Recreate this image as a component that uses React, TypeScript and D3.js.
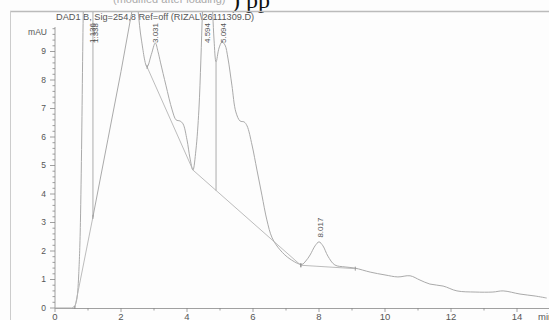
import { useEffect, useRef } from 'react';
import * as d3 from 'd3';

// signal trace, [time (min), absorbance (mAU)]
const signal: [number, number][] = [
  [0, 0], [0.5, 0], [0.58, 0.05], [0.66, 0.3], [0.72, 1.2], [0.77, 3.0], [0.81, 6.0], [0.84, 9.0], [0.87, 11.5],
];
const riseToMain: [number, number][] = [[1.15, 3.2], [1.6, 5.9], [2.0, 8.3], [2.36, 10.6]];
const mainTail: [number, number][] = [
  [2.46, 11.2], [2.52, 10.4], [2.62, 9.4], [2.79, 8.46], [2.92, 8.9], [3.04, 9.3], [3.12, 9.0], [3.2, 8.6],
  [3.36, 7.82], [3.55, 6.95], [3.67, 6.6], [3.79, 6.56], [3.88, 6.46], [4.0, 5.9], [4.09, 5.26], [4.18, 4.84],
  [4.27, 5.54], [4.36, 6.95], [4.42, 8.7], [4.47, 10.4], [4.52, 11.5],
  [4.72, 11.5], [4.78, 10.3], [4.82, 9.4], [4.88, 8.63], [4.97, 9.12], [5.06, 9.33], [5.15, 9.23], [5.24, 8.77],
  [5.36, 7.82], [5.48, 6.88], [5.61, 6.56], [5.73, 6.53], [5.82, 6.39], [5.97, 5.72], [6.12, 4.84], [6.27, 3.96],
  [6.42, 3.09], [6.58, 2.46], [6.82, 2.04], [7.12, 1.72], [7.48, 1.53], [7.6, 1.65], [7.73, 1.86], [7.88, 2.18],
  [8.0, 2.32], [8.12, 2.18], [8.27, 1.82], [8.48, 1.51], [8.79, 1.44], [9.09, 1.4], [9.55, 1.26], [10.0, 1.16],
  [10.39, 1.09], [10.76, 1.13], [11.06, 0.98], [11.36, 0.84], [11.76, 0.77], [12.18, 0.6], [12.73, 0.56],
  [13.27, 0.56], [13.58, 0.6], [14.09, 0.49], [14.55, 0.42], [14.9, 0.35],
];

// integration baselines
const baselines: [number, number][][] = [
  [[0.6, 0], [1.15, 3.2]],
  [[2.79, 8.46], [4.18, 4.84], [7.45, 1.5]],
  [[7.45, 1.5], [9.1, 1.38]],
];
const dropLines: [number, number, number][] = [
  [1.15, 3.2, 11],
  [4.88, 4.12, 8.63],
];

const peakLabels = ['1.136', '1.338', '3.031', '4.594', '5.094', '8.017'];
const peakTimes = [1.136, 1.2, 3.031, 4.594, 5.094, 8.017];
const peakTops = [10.7, 10.7, 9.3, 10.7, 10.7, 2.4];

const xMajor = [0, 2, 4, 6, 8, 10, 12, 14];
const yMajor = [0, 1, 2, 3, 4, 5, 6, 7, 8, 9];

const W = 549;
const H = 320;
const gray = '#aaaaaa';
const txt = '#555';
const sans = '"Liberation Sans", Arial, sans-serif';

export default function App() {
  const ref = useRef<SVGSVGElement>(null);

  useEffect(() => {
    const svg = d3.select(ref.current!);
    svg.selectAll('*').remove();

    const x = d3.scaleLinear().domain([0, 15]).range([55, 550]);
    const y = d3.scaleLinear().domain([0, 10]).range([308, 23]);

    svg.append('rect').attr('width', W).attr('height', H).attr('fill', '#fdfdfd');

    // header text cut off by the scan
    svg.append('text').attr('x', 113).attr('y', 3).attr('font-family', sans).attr('font-size', 11)
      .attr('fill', '#aaa').text('(modified after loading)');
    svg.append('text').attr('x', 232).attr('y', 8).attr('font-family', '"Liberation Serif", serif')
      .attr('font-size', 24).attr('fill', '#111').text(') pp');

    // frame
    svg.append('line').attr('x1', 10).attr('x2', W).attr('y1', 11.5).attr('y2', 11.5)
      .attr('stroke', '#bbb').attr('stroke-width', 1.5);
    svg.append('line').attr('x1', 10.5).attr('x2', 10.5).attr('y1', 11).attr('y2', H)
      .attr('stroke', '#ccc');

    svg.append('text').attr('x', 56).attr('y', 20).attr('font-family', sans).attr('font-size', 9.2)
      .attr('fill', txt).text('DAD1 B, Sig=254,8 Ref=off (RIZAL\\26111309.D)');

    // axes
    const ax = svg.append('g').attr('stroke', '#888').attr('stroke-width', 0.8);
    ax.append('line').attr('x1', 55).attr('x2', 55).attr('y1', 27).attr('y2', 308);
    ax.append('line').attr('x1', 55).attr('x2', W).attr('y1', 308.5).attr('y2', 308.5);
    d3.range(0, 9.81, 0.2).forEach((v) => {
      const major = Math.abs(v - Math.round(v)) < 1e-6;
      ax.append('line').attr('x1', major ? 50 : 52.5).attr('x2', 55).attr('y1', y(v)).attr('y2', y(v));
    });
    d3.range(0, 15, 1).forEach((v) => {
      ax.append('line').attr('x1', x(v)).attr('x2', x(v)).attr('y1', 308).attr('y2', v % 2 === 0 ? 312 : 310.5);
    });

    svg.selectAll('.yl').data(yMajor).join('text')
      .attr('x', 46).attr('y', (d) => y(d)).attr('dy', '0.35em').attr('text-anchor', 'end')
      .attr('font-family', sans).attr('font-size', 8.5).attr('fill', txt).text((d) => d);
    svg.append('text').attr('x', 47).attr('y', 35).attr('text-anchor', 'end')
      .attr('font-family', sans).attr('font-size', 8.5).attr('fill', txt).text('mAU');
    svg.selectAll('.xl').data(xMajor).join('text')
      .attr('x', (d) => x(d)).attr('y', 320).attr('text-anchor', 'middle')
      .attr('font-family', sans).attr('font-size', 9.5).attr('fill', txt).text((d) => d);
    svg.append('text').attr('x', 538).attr('y', 320).attr('font-family', sans).attr('font-size', 9.5)
      .attr('fill', txt).text('min');

    // traces
    svg.append('clipPath').attr('id', 'plot').append('rect')
      .attr('x', 55).attr('y', 12).attr('width', W - 55).attr('height', 297);
    const g = svg.append('g').attr('clip-path', 'url(#plot)').attr('fill', 'none');
    const straight = d3.line<[number, number]>().x((d) => x(d[0])).y((d) => y(d[1]));
    const smooth = d3.line<[number, number]>().x((d) => x(d[0])).y((d) => y(d[1])).curve(d3.curveMonotoneX);
    const rounded = d3.line<[number, number]>().x((d) => x(d[0])).y((d) => y(d[1]))
      .curve(d3.curveCatmullRom.alpha(0.5));

    g.append('path').attr('d', smooth(signal)).attr('stroke', gray).attr('stroke-width', 1);
    g.append('path').attr('d', straight(riseToMain)).attr('stroke', gray).attr('stroke-width', 1);
    g.append('path').attr('d', rounded(mainTail)).attr('stroke', gray).attr('stroke-width', 1);

    baselines.forEach((b) => {
      g.append('path').attr('d', straight(b)).attr('stroke', '#b4b4b4').attr('stroke-width', 0.9);
      [b[0], b[b.length - 1]].forEach((p) => {
        g.append('line').attr('x1', x(p[0])).attr('x2', x(p[0])).attr('y1', y(p[1]) - 2).attr('y2', y(p[1]) + 2)
          .attr('stroke', '#888').attr('stroke-width', 0.8);
      });
    });
    dropLines.forEach(([t, lo, hi]) => {
      g.append('line').attr('x1', x(t)).attr('x2', x(t)).attr('y1', y(lo)).attr('y2', y(hi))
        .attr('stroke', '#a4a4a4').attr('stroke-width', 0.9);
    });

    // peak labels, rotated, just above each apex (or under the title when off scale)
    peakLabels.forEach((lab, i) => {
      const px = x(peakTimes[i]) + 3;
      const py = Math.max(y(peakTops[i]) - 2, 43);
      svg.append('text').attr('transform', `translate(${px},${py}) rotate(-90)`)
        .attr('font-family', sans).attr('font-size', 8).attr('fill', txt).text(lab);
    });
  }, []);

  return <svg ref={ref} width={W} height={H} style={{ position: 'absolute', left: 0, top: 0, display: 'block' }} />;
}
